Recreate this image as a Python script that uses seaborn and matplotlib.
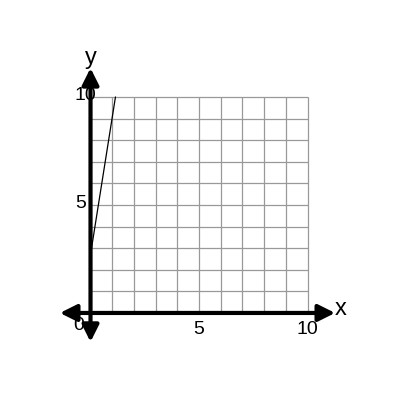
import numpy as np
import pandas as pd
import seaborn as sns
import matplotlib
matplotlib.use("Agg")
import matplotlib.pyplot as plt

# grid and axis values
grid_ticks = list(range(0, 11))
tick_values = [5, 10]
tick_labels = ["5", "10"]
line_x = [0.0, 1.15]
line_y = [2.7, 10.0]

sns.set_style("white")
plt.rcParams['font.family'] = ['Liberation Sans', 'DejaVu Sans']
plt.rcParams['text.color'] = 'black'

fig = plt.figure(figsize=(4, 4), dpi=100)
ax = fig.add_axes([0, 0, 1, 1])
ax.set_xlim(-4.17, 14.26)
ax.set_ylim(-4.03, 14.49)
ax.axis("off")

# grid
ax.vlines(grid_ticks, 0, 10, color="#999999", lw=0.9, zorder=1)
ax.hlines(grid_ticks, 0, 10, color="#999999", lw=0.9, zorder=1)

# line
df = pd.DataFrame({"x": line_x, "y": line_y})
sns.lineplot(data=df, x="x", y="y", ax=ax, color="black", lw=0.9, zorder=2)

# axes with arrows at both ends
arrow = dict(arrowstyle="<|-|>", color="black", lw=3, mutation_scale=25,
             shrinkA=0, shrinkB=0)
ax.annotate("", xy=(11.27, 0), xytext=(-1.41, 0), arrowprops=arrow, zorder=4)
ax.annotate("", xy=(0, 11.34), xytext=(0, -1.34), arrowprops=arrow, zorder=4)

# labels
ax.text(11.54, 0.19, "x", fontsize=17, ha="center", va="center", zorder=3)
ax.text(0.02, 11.8, "y", fontsize=17, ha="center", va="center", zorder=3)
ax.text(-0.53, -0.6, "0", fontsize=14, ha="center", va="center", zorder=3)
for v, lab in zip(tick_values, tick_labels):
    ax.text(v, -0.77, lab, fontsize=14, ha="center", va="center", zorder=3)
y_label_x = {"5": -0.45, "10": -0.25}
for v, lab in zip(tick_values, tick_labels):
    ax.text(y_label_x[lab], v + 0.07, lab, fontsize=14, ha="center",
            va="center", zorder=3)

plt.savefig("out.png", dpi=100)
